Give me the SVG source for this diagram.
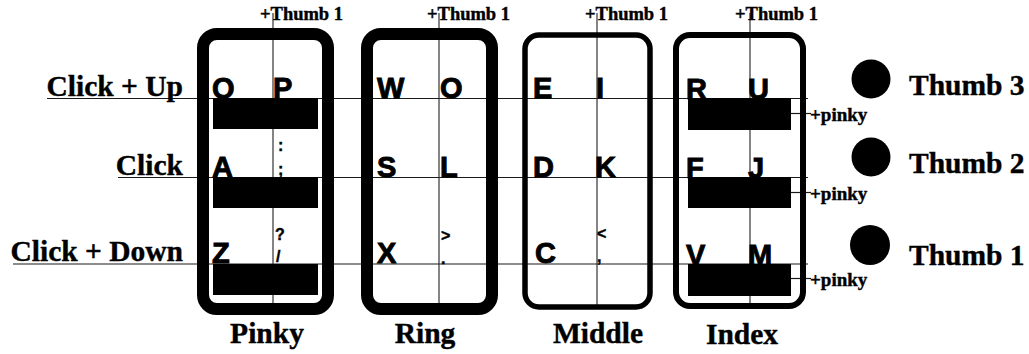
<svg xmlns="http://www.w3.org/2000/svg" width="1029" height="354" viewBox="0 0 1029 354">
<style>
.lbl{font-family:"Liberation Serif","Times New Roman",serif;font-weight:bold;fill:#000;stroke:#000;stroke-width:0.4}
.big{font-size:29.5px}
.th{font-size:18.5px}
.pk{font-size:19px}
.key{font-family:"Liberation Sans",Arial,sans-serif;font-weight:bold;font-size:29px;fill:#000;stroke:#000;stroke-width:0.9}
.sm{font-family:"Liberation Sans",Arial,sans-serif;font-weight:bold;font-size:16px;fill:#000;stroke:#000;stroke-width:0.4}
.ln{stroke:#1a1a1a;stroke-width:1.2;fill:none}
.vl{stroke:#333;stroke-width:1.2;fill:none}
.bar{fill:#000}
.box{fill:none;stroke:#000}
</style>
<rect width="1029" height="354" fill="#fff"/>
<g id="connectors">
<line class="ln" x1="47" y1="98.5" x2="808" y2="98.5"/>
<line class="ln" x1="118" y1="177.5" x2="808" y2="177.5"/>
<line class="ln" x1="13" y1="264" x2="808" y2="264"/>
<line class="vl" x1="273" y1="13" x2="273" y2="303"/>
<line class="vl" x1="439" y1="13" x2="439" y2="303"/>
<line class="vl" x1="597" y1="13" x2="597" y2="305"/>
<line class="vl" x1="750" y1="13" x2="750" y2="303"/>
<line class="ln" x1="791" y1="113.5" x2="811" y2="113.5"/>
<line class="ln" x1="791" y1="192.5" x2="811" y2="192.5"/>
<line class="ln" x1="791" y1="278.5" x2="811" y2="278.5"/>
</g>
<g id="row-labels">
<text class="lbl big" x="183" y="96" text-anchor="end">Click + Up</text>
<text class="lbl big" x="183" y="175" text-anchor="end">Click</text>
<text class="lbl big" x="183" y="261" text-anchor="end">Click + Down</text>
</g>
<g id="pinky">
<rect class="box" x="203" y="34" width="125" height="275" rx="14" stroke-width="12"/>
<text class="lbl th" x="260" y="20">+Thumb 1</text>
<text class="key" x="212" y="98">Q</text>
<text class="key" x="273" y="98">P</text>
<text class="key" x="212" y="177">A</text>
<text class="sm" x="278" y="151">:</text>
<text class="sm" x="278" y="175">;</text>
<text class="key" x="212" y="263">Z</text>
<text class="sm" x="275" y="240">?</text>
<text class="sm" x="276" y="262">/</text>
<rect class="bar" x="213" y="98" width="105" height="31"/>
<rect class="bar" x="213" y="177" width="105" height="31"/>
<rect class="bar" x="213" y="264" width="105" height="31"/>
<text class="lbl big" x="267" y="343" text-anchor="middle">Pinky</text>
</g>
<g id="ring">
<rect class="box" x="367" y="34" width="125" height="275" rx="14" stroke-width="12"/>
<text class="lbl th" x="427" y="20">+Thumb 1</text>
<text class="key" x="377" y="98">W</text>
<text class="key" x="440" y="98">O</text>
<text class="key" x="377" y="177">S</text>
<text class="key" x="440" y="177">L</text>
<text class="key" x="377" y="263">X</text>
<text class="sm" x="441" y="241">&gt;</text>
<text class="sm" x="441" y="264">.</text>
<text class="lbl big" x="425" y="343" text-anchor="middle">Ring</text>
</g>
<g id="middle">
<rect class="box" x="525" y="35" width="125" height="272" rx="14" stroke-width="5.5"/>
<text class="lbl th" x="585" y="20">+Thumb 1</text>
<text class="key" x="533" y="98">E</text>
<text class="key" x="596" y="98">I</text>
<text class="key" x="533" y="177">D</text>
<text class="key" x="595" y="177">K</text>
<text class="key" x="535" y="263">C</text>
<text class="sm" x="597" y="239">&lt;</text>
<text class="sm" x="597" y="262">,</text>
<text class="lbl big" x="598" y="343" text-anchor="middle">Middle</text>
</g>
<g id="index">
<rect class="box" x="676" y="35" width="127" height="271" rx="14" stroke-width="6"/>
<text class="lbl th" x="735" y="20">+Thumb 1</text>
<text class="key" x="686" y="99">R</text>
<text class="key" x="748" y="99">U</text>
<text class="key" x="686" y="178">F</text>
<text class="key" x="748" y="178">J</text>
<text class="key" x="686" y="265">V</text>
<text class="key" x="748" y="265">M</text>
<rect class="bar" x="688" y="98" width="103" height="32"/>
<rect class="bar" x="688" y="177" width="103" height="31"/>
<rect class="bar" x="688" y="264" width="103" height="32"/>
<text class="lbl pk" x="810" y="121">+pinky</text>
<text class="lbl pk" x="810" y="200">+pinky</text>
<text class="lbl pk" x="810" y="286">+pinky</text>
<text class="lbl big" x="742" y="344" text-anchor="middle">Index</text>
</g>
<g id="thumb3">
<circle cx="871" cy="79" r="19.5" fill="#000"/>
<text class="lbl big" x="909" y="95">Thumb 3</text>
</g>
<g id="thumb2">
<circle cx="871" cy="157" r="19.5" fill="#000"/>
<text class="lbl big" x="909" y="173">Thumb 2</text>
</g>
<g id="thumb1">
<circle cx="870" cy="245" r="20" fill="#000"/>
<text class="lbl big" x="909" y="265">Thumb 1</text>
</g>
</svg>
